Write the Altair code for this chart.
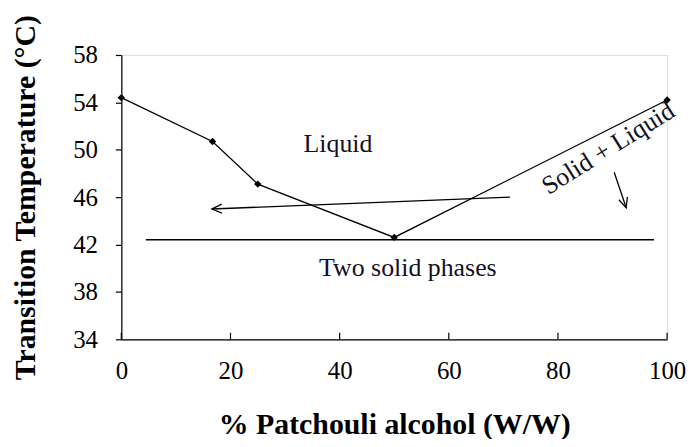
import altair as alt
import pandas as pd

# Liquidus data
comp = [0, 16.7, 25, 50, 100]
temp = [54.4, 50.7, 47.1, 42.6, 54.2]

# Eutectic line
eut_x = [4.5, 97.6]
eut_y = [42.4, 42.4]

# Arrows (start -> end)
arr1_x = [71.2, 16.6]
arr1_y = [46.0, 45.0]
arr2_x = [90.3, 92.5]
arr2_y = [48.1, 45.1]

x_ticks = [0, 20, 40, 60, 80, 100]
y_ticks = [34, 38, 42, 46, 50, 54, 58]

labels = ["Liquid", "Two solid phases"]
label_x = [39.7, 52.5]
label_y = [50.5, 40.0]

FONT = "Liberation Serif"

xs = alt.Scale(domain=[0, 100], nice=False, zero=False)
ys = alt.Scale(domain=[34, 58], nice=False, zero=False)

df = pd.DataFrame({"x": comp, "y": temp})
eut = pd.DataFrame({"x": eut_x, "y": eut_y})
a1 = pd.DataFrame({"x": arr1_x, "y": arr1_y, "o": [0, 1]})
a2 = pd.DataFrame({"x": arr2_x, "y": arr2_y, "o": [0, 1]})
heads = pd.DataFrame({"x": [arr1_x[1], arr2_x[1]], "y": [arr1_y[1], arr2_y[1]],
                      "ang": [177.9, 72.0]})
lab = pd.DataFrame({"t": labels, "x": label_x, "y": label_y})
ticks = pd.DataFrame({"x": x_ticks, "y": [34] * 6, "y2": [34.55] * 6})

xaxis = alt.Axis(values=x_ticks, title="% Patchouli alcohol (W/W)", grid=False,
                 ticks=False, labelPadding=19, labelFontSize=25, titleFontSize=30,
                 titleFontWeight="bold", titlePadding=27, labelFont=FONT, titleFont=FONT,
                 labelFlush=False,
                 domainColor="black", labelColor="black", titleColor="black", domainWidth=1.2)
yaxis = alt.Axis(values=y_ticks, title="Transition Temperature (°C)", grid=False,
                 tickSize=6, labelPadding=18, labelFontSize=25, titleFontSize=30,
                 titleFontWeight="bold", titlePadding=32, labelFont=FONT, titleFont=FONT,
                 domainColor="black", tickColor="black", labelColor="black",
                 titleColor="black", domainWidth=1.2, tickWidth=1.2)

base_line = alt.Chart(df).mark_line(color="black", strokeWidth=1.3).encode(
    x=alt.X("x:Q", scale=xs, axis=xaxis),
    y=alt.Y("y:Q", scale=ys, axis=yaxis),
)
pts = alt.Chart(df).mark_point(shape="diamond", filled=True, color="black", size=55, opacity=1).encode(
    x=alt.X("x:Q", scale=xs), y=alt.Y("y:Q", scale=ys))

eut_line = alt.Chart(eut).mark_line(color="black", strokeWidth=1.5).encode(
    x=alt.X("x:Q", scale=xs), y=alt.Y("y:Q", scale=ys))

arr1 = alt.Chart(a1).mark_line(color="black", strokeWidth=1.3).encode(
    x=alt.X("x:Q", scale=xs), y=alt.Y("y:Q", scale=ys), order="o:Q")
arr2 = alt.Chart(a2).mark_line(color="black", strokeWidth=1.3).encode(
    x=alt.X("x:Q", scale=xs), y=alt.Y("y:Q", scale=ys), order="o:Q")
head = alt.Chart(heads).mark_point(shape="M-2,-0.9L0,0L-2,0.9", filled=False, color="black",
                                   strokeWidth=1.3, size=100, opacity=1).encode(
    x=alt.X("x:Q", scale=xs), y=alt.Y("y:Q", scale=ys), angle=alt.Angle("ang:Q", scale=None))

texts = alt.Chart(lab).mark_text(font=FONT, fontSize=26, color="#111122").encode(
    x=alt.X("x:Q", scale=xs), y=alt.Y("y:Q", scale=ys), text="t:N")

rot = alt.Chart(pd.DataFrame({"t": ["Solid + Liquid"], "x": [89.2], "y": [50.1]})).mark_text(
    font=FONT, fontSize=26, color="#111122", angle=328).encode(
    x=alt.X("x:Q", scale=xs), y=alt.Y("y:Q", scale=ys), text="t:N")

xt = alt.Chart(ticks).mark_rule(color="black", strokeWidth=1.2).encode(
    x=alt.X("x:Q", scale=xs), y=alt.Y("y:Q", scale=ys), y2="y2:Q")

chart = alt.layer(eut_line, arr1, arr2, head, base_line, pts, texts, rot, xt).properties(
    width=549, height=286,
    autosize=alt.AutoSizeParams(type="none"),
    padding={"left": 114, "top": 46, "right": 20, "bottom": 99},
).configure_view(stroke=None).configure(background="white")

chart.save("out.html", embed_options={"renderer": "svg", "actions": False})
